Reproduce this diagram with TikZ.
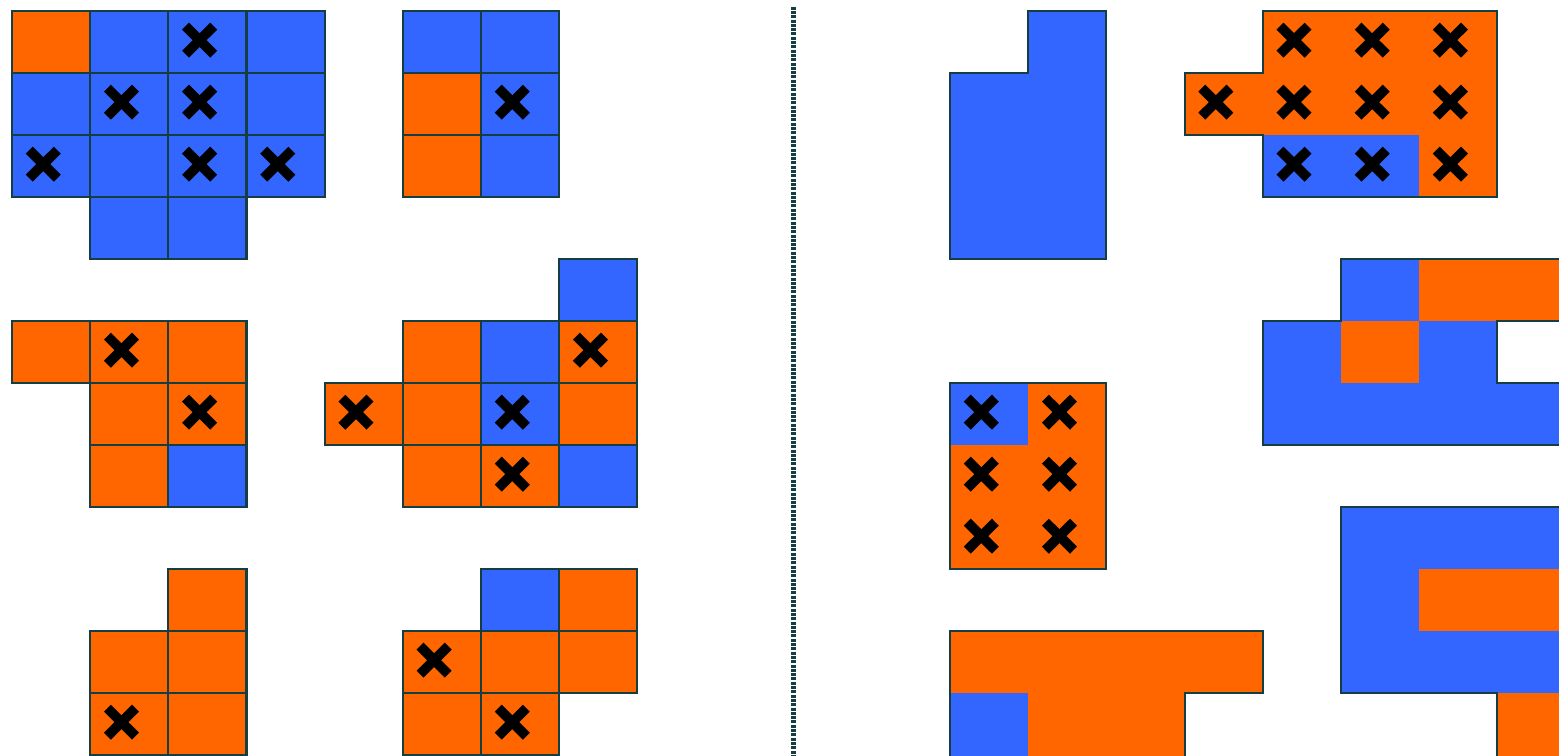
\documentclass[tikz,border=0pt]{standalone}
\usepackage{tikz}
\definecolor{tileorange}{RGB}{255,102,0}
\definecolor{tileblue}{RGB}{51,102,255}
\definecolor{tileedge}{RGB}{20,62,66}
\newcommand{\sqcell}[3]{\filldraw[#3,rim] (#1,#2) rectangle ++(1,1);}
\newcommand{\xcell}[2]{%
\draw[xmark] (#1+0.22,#2+0.244) -- (#1+0.58,#2+0.696);
\draw[xmark] (#1+0.22,#2+0.696) -- (#1+0.58,#2+0.244);}

\begin{document}
\begin{tikzpicture}[x=7.817mm,y=-6.2mm,
  org/.style={fill=tileorange},
  blu/.style={fill=tileblue},
  rim/.style={draw=tileedge,line width=0.6pt},
  xmark/.style={line width=2.8pt,line cap=butt},
  divider/.style={draw=tileedge,line width=0.45mm,dash pattern=on 0.3mm off 0.13mm}]
\clip (-0.1535,-0.1774) rectangle (19.79,12);
% left half
\sqcell{0}{0}{org} \sqcell{1}{0}{blu} \sqcell{2}{0}{blu} \sqcell{3}{0}{blu}
\sqcell{0}{1}{blu} \sqcell{1}{1}{blu} \sqcell{2}{1}{blu} \sqcell{3}{1}{blu}
\sqcell{0}{2}{blu} \sqcell{1}{2}{blu} \sqcell{2}{2}{blu} \sqcell{3}{2}{blu}
\sqcell{1}{3}{blu} \sqcell{2}{3}{blu}
\xcell{2}{0} \xcell{1}{1} \xcell{2}{1} \xcell{0}{2} \xcell{2}{2} \xcell{3}{2}

\sqcell{5}{0}{blu} \sqcell{6}{0}{blu}
\sqcell{5}{1}{org} \sqcell{6}{1}{blu}
\sqcell{5}{2}{org} \sqcell{6}{2}{blu}
\xcell{6}{1}

\sqcell{0}{5}{org} \sqcell{1}{5}{org} \sqcell{2}{5}{org}
\sqcell{1}{6}{org} \sqcell{2}{6}{org}
\sqcell{1}{7}{org} \sqcell{2}{7}{blu}
\xcell{1}{5} \xcell{2}{6}

\sqcell{7}{4}{blu}
\sqcell{5}{5}{org} \sqcell{6}{5}{blu} \sqcell{7}{5}{org}
\sqcell{4}{6}{org} \sqcell{5}{6}{org} \sqcell{6}{6}{blu} \sqcell{7}{6}{org}
\sqcell{5}{7}{org} \sqcell{6}{7}{org} \sqcell{7}{7}{blu}
\xcell{7}{5} \xcell{4}{6} \xcell{6}{6} \xcell{6}{7}

\sqcell{2}{9}{org}
\sqcell{1}{10}{org} \sqcell{2}{10}{org}
\sqcell{1}{11}{org} \sqcell{2}{11}{org}
\xcell{1}{11}

\sqcell{6}{9}{blu} \sqcell{7}{9}{org}
\sqcell{5}{10}{org} \sqcell{6}{10}{org} \sqcell{7}{10}{org}
\sqcell{5}{11}{org} \sqcell{6}{11}{org}
\xcell{5}{10} \xcell{6}{11}

\draw[divider] (10,-0.07) -- (10,12.1);
% right half
\filldraw[blu,rim] (13,0) -- (14,0) -- (14,4) -- (12,4) -- (12,1) -- (13,1) -- cycle;

\fill[org] (16,0) -- (19,0) -- (19,3) -- (16,3) -- (16,2) -- (15,2) -- (15,1) -- (16,1) -- cycle;
\fill[blu] (16,2) rectangle (18,3);
\draw[rim] (16,0) -- (19,0) -- (19,3) -- (16,3) -- (16,2) -- (15,2) -- (15,1) -- (16,1) -- cycle;
\xcell{16}{0} \xcell{17}{0} \xcell{18}{0}
\xcell{15}{1} \xcell{16}{1} \xcell{17}{1} \xcell{18}{1}
\xcell{16}{2} \xcell{17}{2} \xcell{18}{2}

\fill[blu] (17,4) rectangle (18,5);
\fill[org] (18,4) rectangle (21,5);
\fill[blu] (16,5) rectangle (19,6);
\fill[org] (17,5) rectangle (18,6);
\fill[blu] (16,6) rectangle (21,7);
\draw[rim] (21,4) -- (17,4) -- (17,5) -- (16,5) -- (16,7) -- (21,7);
\draw[rim] (21,5) -- (19,5) -- (19,6) -- (21,6);

\fill[org] (12,6) rectangle (14,9);
\fill[blu] (12,6) rectangle (13,7);
\draw[rim] (12,6) rectangle (14,9);
\xcell{12}{6} \xcell{13}{6} \xcell{12}{7} \xcell{13}{7} \xcell{12}{8} \xcell{13}{8}

\fill[blu] (17,8) rectangle (21,11);
\fill[org] (18,9) rectangle (21,10);
\fill[org] (19,11) rectangle (21,13);
\draw[rim] (21,8) -- (17,8) -- (17,11) -- (19,11) -- (19,13);

\fill[org] (12,10) rectangle (16,11);
\fill[blu] (12,11) rectangle (13,13);
\fill[org] (13,11) rectangle (15,13);
\draw[rim] (12,13) -- (12,10) -- (16,10) -- (16,11) -- (15,11) -- (15,13);
\end{tikzpicture}
\end{document}
